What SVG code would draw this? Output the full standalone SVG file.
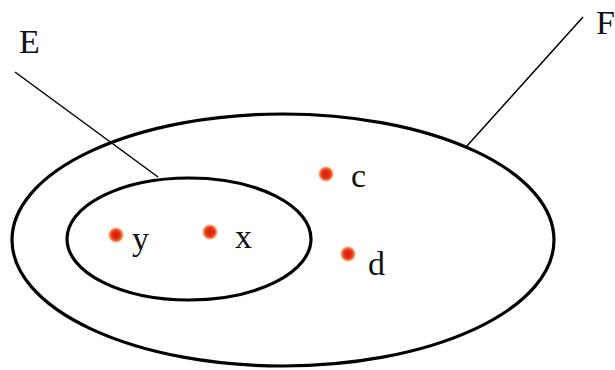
<svg xmlns="http://www.w3.org/2000/svg" width="615" height="370" viewBox="0 0 615 370">
<style>
.set{fill:none;stroke:#000;stroke-width:3.2}
.lead{stroke:#000;stroke-width:1.5;fill:none}
.lbl{font-family:"Liberation Serif",serif;font-size:34px;fill:#111}
</style>
<defs>
<radialGradient id="dot">
<stop offset="0" stop-color="#d81808"/>
<stop offset="0.5" stop-color="#e63318"/>
<stop offset="0.75" stop-color="#f27a40" stop-opacity="0.9"/>
<stop offset="1" stop-color="#fbd090" stop-opacity="0"/>
</radialGradient>
</defs>
<rect width="615" height="370" fill="#fff"/>
<g id="F">
<ellipse class="set" cx="283" cy="240" rx="271" ry="126"/>
<text class="lbl" x="596" y="34">F</text>
</g>
<g id="E">
<ellipse class="set" cx="189" cy="239" rx="122" ry="61"/>
<text class="lbl" x="19" y="53">E</text>
</g>
<g id="connectors">
<line class="lead" x1="15" y1="72" x2="158" y2="177"/>
<line class="lead" x1="583" y1="17" x2="466" y2="147"/>
</g>
<g id="y"><circle cx="116" cy="235" r="8.5" fill="url(#dot)"/><text class="lbl" x="132" y="250">y</text></g>
<g id="x"><circle cx="210" cy="232" r="8.5" fill="url(#dot)"/><text class="lbl" x="235" y="248">x</text></g>
<g id="c"><circle cx="326" cy="174" r="8.5" fill="url(#dot)"/><text class="lbl" x="351" y="187">c</text></g>
<g id="d"><circle cx="348" cy="254" r="8.5" fill="url(#dot)"/><text class="lbl" x="368" y="275">d</text></g>
</svg>
